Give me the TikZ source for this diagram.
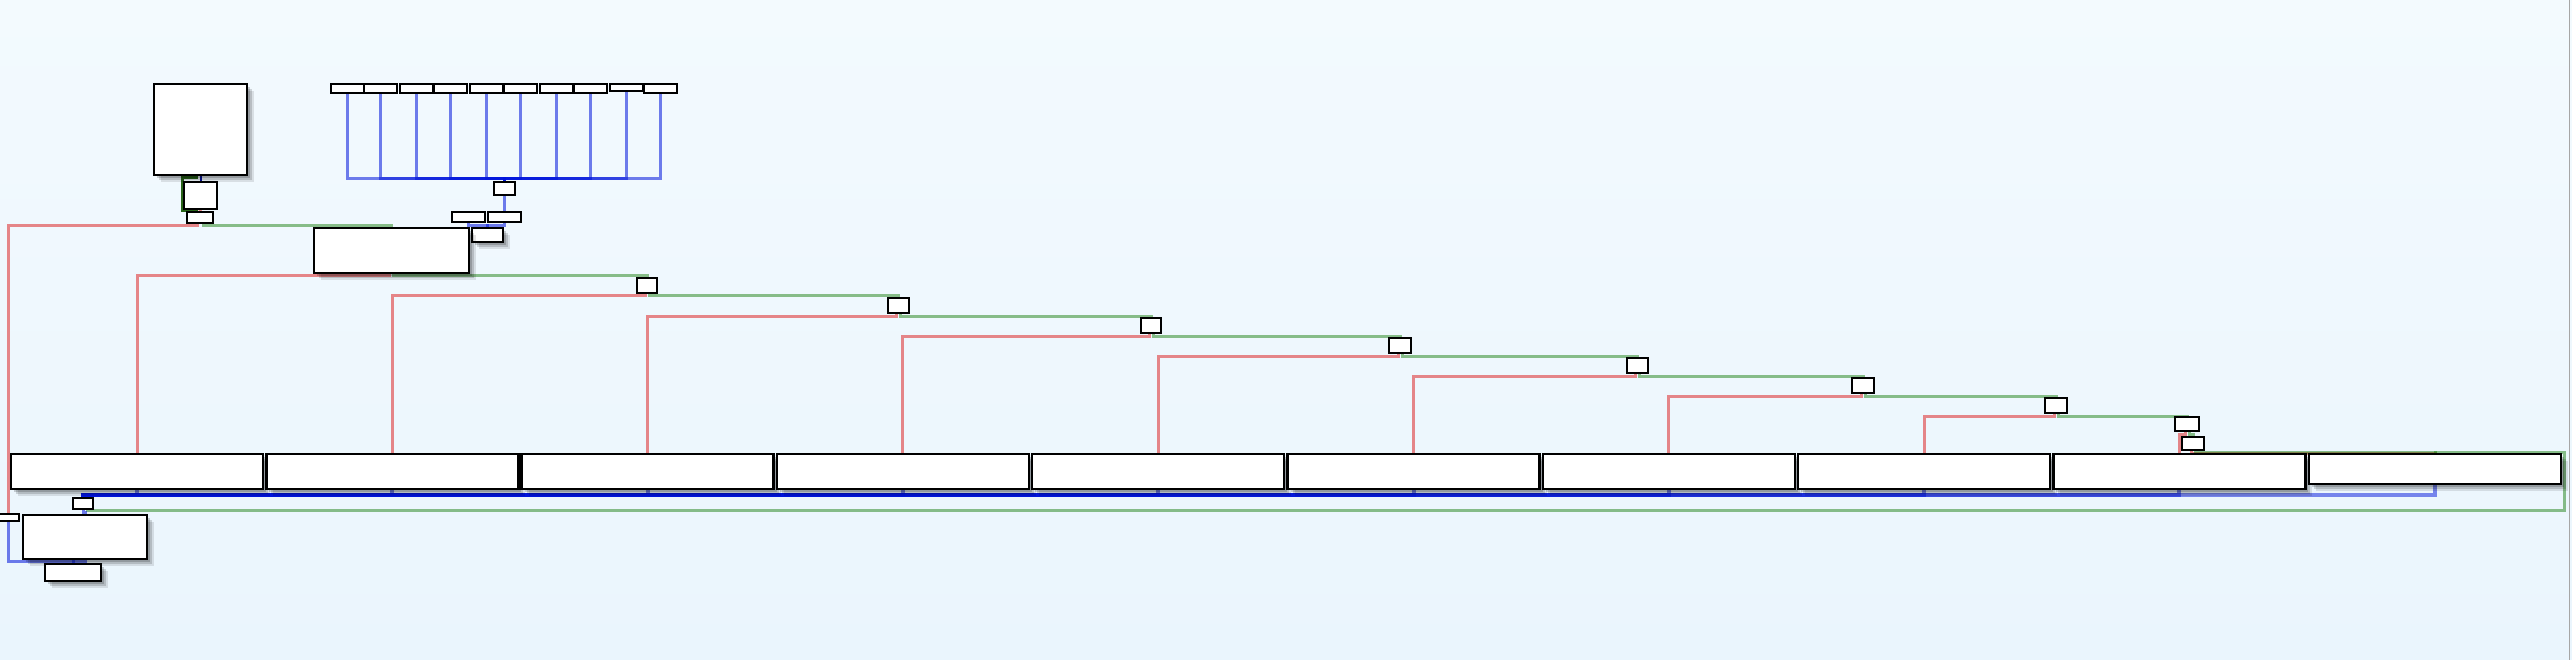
\documentclass[tikz,border=0pt]{standalone}
\usetikzlibrary{calc,shadows}
\definecolor{bgtop}{RGB}{243,250,254}
\definecolor{bgbot}{RGB}{234,245,253}
\definecolor{lnred}{RGB}{220,20,20}
\definecolor{lngreen}{RGB}{30,130,20}
\definecolor{lnblue}{RGB}{0,20,220}
\definecolor{dkgreen}{RGB}{40,100,25}
\definecolor{dkblue}{RGB}{10,20,160}
\pgfdeclarelayer{back}
\pgfdeclarelayer{lines}
\pgfsetlayers{back,lines,main}
\tikzset{
  box/.style={draw=black, fill=white, line width=2.5pt, inner sep=0pt, outer sep=0pt, rectangle},
  shd/.style={
    drop shadow={shadow xshift=7pt, shadow yshift=-7pt, opacity=0.10, fill=black, draw=none},
    drop shadow={shadow xshift=5pt, shadow yshift=-5pt, opacity=0.15, fill=black, draw=none},
    drop shadow={shadow xshift=3pt, shadow yshift=-3pt, opacity=0.18, fill=black, draw=none}},
  redl/.style={draw=lnred, draw opacity=0.5, line width=3pt},
  grnl/.style={draw=lngreen, draw opacity=0.5, line width=3pt},
  blul/.style={draw=lnblue, draw opacity=0.55, line width=3pt},
  busl/.style={draw=lnblue, draw opacity=0.5, line width=4pt},
}
\newcommand\mybox[6]{\node[box,#6,minimum width={#4-#2},minimum height={#5-#3}] (#1) at ({(#2+#4)/2},{(#3+#5)/2}) {};}
\begin{document}
\begin{tikzpicture}[x=1pt,y=-1pt]
\useasboundingbox (0,0) rectangle (2572,660);
\begin{pgfonlayer}{back}
\shade[top color=bgtop,bottom color=bgbot] (0,0) rectangle (2572,660);
\draw[gray!70, line width=1.5pt] (2569.5,0) -- (2569.5,660);
\end{pgfonlayer}

% top-left group
\mybox{BB}{154}{84}{247}{175}{shd}
\mybox{C}{184}{182}{217}{209}{}
\mybox{D}{187}{212}{213}{223}{}

% top row of small boxes
\foreach \i/\xa/\yb in {1/331/93,2/364/93,3/400/93,4/434/93,5/470/93,6/504/93,7/540/93,8/574/93,9/610/91,10/644/93}{
  \mybox{T\i}{\xa}{84}{\xa+33}{\yb}{}
}
\mybox{P}{494}{182}{515}{195}{}
\mybox{Q1}{452}{212}{485}{222}{}
\mybox{Q2}{488}{212}{521}{222}{}
\mybox{R}{472}{228}{503}{242}{shd}
\mybox{M}{314}{228}{469}{273}{shd}

% stair boxes
\foreach \i/\xa/\xb/\ya/\yb in {1/637/657/278/293, 2/888/909/298/313, 3/1141/1161/318/333, 4/1389/1411/338/353, 5/1627/1648/358/373, 6/1852/1874/378/393, 7/2045/2067/398/413, 8/2175/2199/417/431, 9/2182/2204/437/450}{
  \mybox{S\i}{\xa}{\ya}{\xb}{\yb}{}
}

% row boxes
\foreach \k in {1,...,9}{
  \pgfmathsetmacro\xa{11+255.3*(\k-1)}
  \mybox{row\k}{\xa}{454}{\xa+252}{489}{shd}
}
\mybox{row10}{2309}{454}{2561}{484}{shd}

% bottom-left group
\mybox{B}{73}{498}{93}{509}{}
\mybox{E}{-3}{514}{19}{521}{}
\mybox{G}{23}{515}{147}{559}{shd}
\mybox{H}{45}{564}{101}{581}{shd}

\begin{pgfonlayer}{lines}
% top-left connectors
\draw[draw=dkblue, line width=2pt] (BB.south) -- (C.north);
\draw[draw=dkgreen, line width=3pt] ([xshift=-4pt]BB.south) -- ++(0,3) -| (182,211) -| ([xshift=-4pt]D.north);
\draw[redl] (C.south) -- (D.north);
\draw[redl] ([xshift=-3pt]D.south) |- (8,226) -- (E.north);
\draw[grnl] ([xshift=3pt]D.south) -- ++(0,3) -| (M.north);

% top blue tree
\foreach \i in {1,...,10}{
  \draw[blul] (T\i.south) |- ($(P.north)+(0,-3)$) -- (P.north);
}
\draw[blul] (P.south) -- (Q2.north);
\draw[blul] (Q1.south) |- ($(R.north)+(0,-2)$) -- (R.north);
\draw[blul] (Q2.south) |- ($(R.north)+(0,-2)$) -- (R.north);

% stair chain
\draw[redl] (row1.north) |- ($(M.south)+(-2,3)$) -- ([xshift=-2pt]M.south);
\draw[grnl] ([xshift=2pt]M.south) -- ++(0,3) -| (S1.north);
\foreach \i/\j in {1/2,2/3,3/4,4/5,5/6,6/7,7/8,8/9}{
  \draw[grnl] ([xshift=2pt]S\i.south) -- ++(0,3) -| (S\j.north);
}
\foreach \k/\p in {2/1,3/2,4/3,5/4,6/5,7/6,8/7,9/8,10/9}{
  \draw[redl] (row\k.north) |- ($(S\p.south)+(-2,3)$) -- ([xshift=-2pt]S\p.south);
}
\draw[grnl] ([xshift=2pt]S9.south) -- ++(0,2) -| (row10.north);

% bottom blue bus
\foreach \k in {1,...,10}{
  \draw[busl] (row\k.south) |- ($(B.north)+(0,-3)$) -- (B.north);
}
\draw[grnl] ([xshift=4pt]B.south) |- (2564,510) |- ($(row10.north)+(0,-2)$) -- (row10.north);
\draw[blul] (B.south) -- ++(0,3) -| (G.north);
\draw[blul] (E.south) |- ($(H.north)+(0,-3)$) -- (H.north);
\draw[blul] (G.south) -- ++(0,2) -| (H.north);
\end{pgfonlayer}
\end{tikzpicture}
\end{document}
